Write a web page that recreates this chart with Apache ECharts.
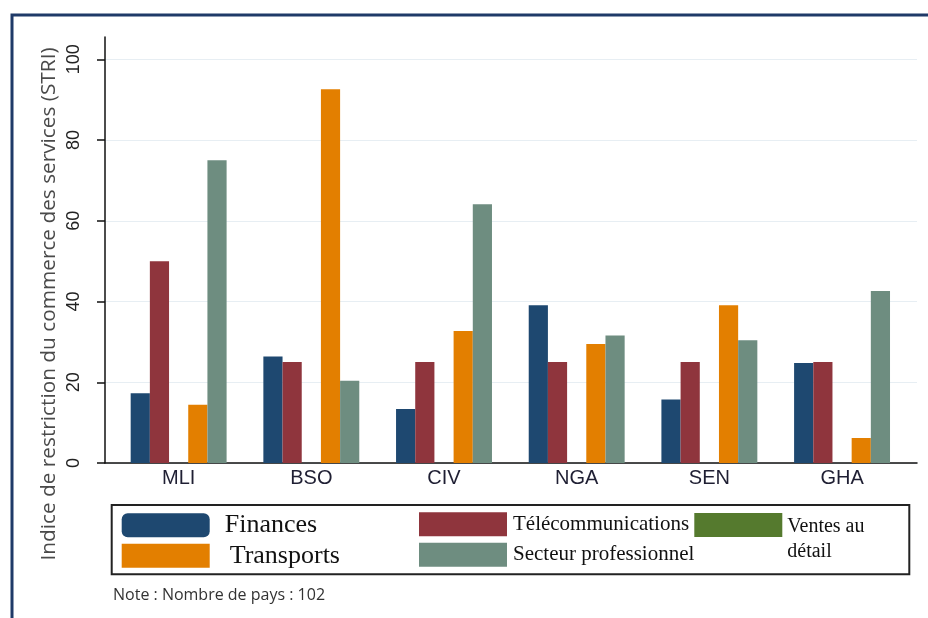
<!DOCTYPE html>
<html>
<head>
<meta charset="utf-8">
<script src="https://cdn.jsdelivr.net/npm/echarts@6/dist/echarts.min.js"></script>
<style>
  html, body { margin: 0; padding: 0; background: #fff; }
  #chart { width: 928px; height: 618px; }
</style>
</head>
<body>
<div id="chart"></div>
<script>
// Services trade restrictiveness index (STRI) by sector, per country
const countries = ['MLI', 'BSO', 'CIV', 'NGA', 'SEN', 'GHA'];
const finances = [17.3, 26.4, 13.4, 39.1, 15.7, 24.8];
const telecommunications = [50, 25, 25, 25, 25, 25];
const ventesAuDetail = [0, 0, 0, 0, 0, 0];
const transports = [14.4, 92.6, 32.7, 29.5, 39.1, 6.2];
const secteurProfessionnel = [75, 20.4, 64.1, 31.6, 30.4, 42.6];

const yMin = 0, yMax = 100, yStep = 20;
const axisTitle = 'Indice de restriction du commerce des services (STRI)';
const noteText = 'Note : Nombre de pays : 102';

const colors = {
  finances: '#1e4870',
  telecom: '#8f353d',
  ventes: '#557a2e',
  transports: '#e37f00',
  secteur: '#6e8d80'
};

const chart = echarts.init(document.getElementById('chart'), null, { renderer: 'canvas' });

const serif = 'Liberation Serif, Times New Roman, serif';
const sans = 'Liberation Sans, Arial, sans-serif';

function legendItem(name, left, top, icon, textStyle) {
  return {
    data: [name],
    left: left,
    top: top,
    padding: 0,
    icon: icon,
    itemWidth: 88,
    itemHeight: 24,
    selectedMode: false,
    textStyle: Object.assign({ fontFamily: serif, color: '#111' }, textStyle)
  };
}

// The two-line retail label sits lower than its swatch: an empty spacer line
// above it pushes the text down, and the legend box is raised to compensate.
const ventesLegend = legendItem('Ventes au détail', 694.3, 499.9, 'rect', {
  fontSize: 20,
  rich: {
    gap: { height: 28, fontSize: 1 },
    line: { fontFamily: serif, fontSize: 20, lineHeight: 24.7, color: '#111' }
  }
});
ventesLegend.formatter = function () {
  return '{gap| }\n{line|Ventes au}\n{line|détail}';
};

const option = {
  animation: false,
  backgroundColor: '#fff',
  grid: [
    { left: 105, right: 11, top: 37, bottom: 155 },
    { left: 105, right: 11, top: 59.3, bottom: 155 },
    { left: 112.3, right: 19.6, top: 59.3, bottom: 155 }
  ],
  xAxis: [
    {
      gridIndex: 0, type: 'value', min: 0, max: 1,
      axisLine: { show: true, onZero: false, lineStyle: { color: '#111', width: 1.5 } },
      axisTick: { show: false }, axisLabel: { show: false }, splitLine: { show: false }
    },
    { gridIndex: 1, type: 'value', min: 0, max: 1, show: false },
    {
      gridIndex: 2, type: 'category', data: countries,
      axisLine: { show: false }, axisTick: { show: false },
      axisLabel: { fontFamily: sans, fontSize: 20, color: '#1f1f33', margin: 5 }
    }
  ],
  yAxis: [
    {
      gridIndex: 0, type: 'value', min: 0, max: 1,
      axisLine: { show: true, onZero: false, lineStyle: { color: '#111', width: 1.5 } },
      axisTick: { show: false }, axisLabel: { show: false }, splitLine: { show: false }
    },
    {
      gridIndex: 1, type: 'value', min: yMin, max: yMax, interval: yStep,
      axisLine: { show: false },
      axisTick: { show: true, length: 8, lineStyle: { color: '#111', width: 1.5 } },
      axisLabel: { rotate: 90, fontFamily: sans, fontSize: 18, color: '#222', margin: 22 },
      splitLine: { show: true, lineStyle: { color: '#e7eef3', width: 1.2 } }
    },
    { gridIndex: 2, type: 'value', min: yMin, max: yMax, show: false }
  ],
  legend: [
    legendItem('Finances', 121.7, 512.3, 'roundRect', { fontSize: 26, padding: [0, 0, 0, 10] }),
    legendItem('Transports', 121.7, 542.7, 'rect', { fontSize: 26, padding: [0, 0, 0, 15] }),
    legendItem('Télécommunications', 419, 512.3, 'rect', { fontSize: 21, padding: [0, 0, 0, 1] }),
    legendItem('Secteur professionnel', 419, 542.7, 'rect', { fontSize: 21, padding: [0, 0, 0, 1] }),
    ventesLegend
  ],
  title: {
    text: noteText,
    left: 113, top: 587, padding: 0,
    textStyle: { fontFamily: 'Open Sans, sans-serif', fontSize: 16, fontWeight: 'normal', color: '#333' }
  },
  graphic: [
    {
      type: 'rect', silent: true, z: -10,
      shape: { x: 12, y: 15, width: 940, height: 640 },
      style: { fill: 'none', stroke: '#1f3a68', lineWidth: 3 }
    },
    {
      type: 'rect', silent: true,
      shape: { x: 111.7, y: 505, width: 797.6, height: 69.3 },
      style: { fill: 'none', stroke: '#222', lineWidth: 2 }
    },
    {
      type: 'text', silent: true,
      x: 49, y: 304, rotation: Math.PI / 2,
      style: {
        text: axisTitle, fontFamily: 'Open Sans, sans-serif', fontSize: 20.8,
        fill: '#4a4a4a', align: 'center', verticalAlign: 'middle'
      }
    }
  ],
  series: [
    { name: 'Finances', data: finances, color: colors.finances },
    { name: 'Télécommunications', data: telecommunications, color: colors.telecom },
    { name: 'Ventes au détail', data: ventesAuDetail, color: colors.ventes },
    { name: 'Transports', data: transports, color: colors.transports },
    { name: 'Secteur professionnel', data: secteurProfessionnel, color: colors.secteur }
  ].map(function (s) {
    return {
      type: 'bar', name: s.name, data: s.data,
      xAxisIndex: 2, yAxisIndex: 2,
      barGap: '0%', barCategoryGap: '27.7%',
      itemStyle: { color: s.color },
      emphasis: { disabled: true }
    };
  })
};

chart.setOption(option);
</script>
</body>
</html>
